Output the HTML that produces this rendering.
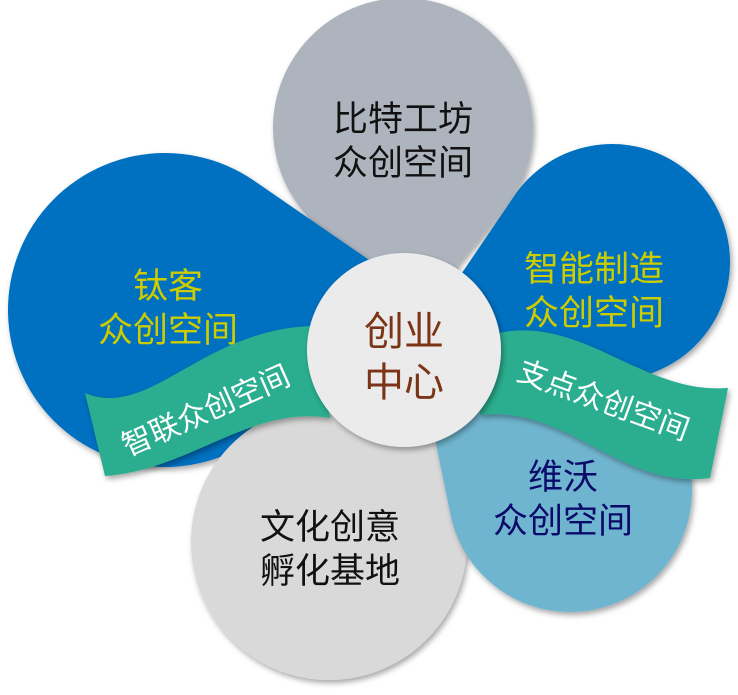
<!DOCTYPE html>
<html><head><meta charset="utf-8">
<style>
html,body{margin:0;padding:0;background:#fff;}
svg{display:block}
text{font-family:"Liberation Sans","Noto Sans CJK SC",sans-serif;}
</style></head>
<body>
<svg id="s" width="738" height="695" viewBox="0 0 738 695" xmlns="http://www.w3.org/2000/svg">
<defs>
<filter id="sh" x="-20%" y="-20%" width="140%" height="140%">
<feDropShadow dx="2" dy="3" stdDeviation="3" flood-color="#000" flood-opacity="0.35"/>
</filter>
</defs>
<g id="petals"></g>
<path d="M85,393 C150,420 200,330 312,326 L330,418 C250,405 190,470 105,476 Z" fill="#2BAE8F" filter="url(#sh)"/>
<path d="M490,335 C580,310 640,395 728,388 L710,478 C620,490 570,405 480,415 Z" fill="#2BAE8F" filter="url(#sh)"/>
<circle cx="404" cy="350" r="97" fill="#EBEBEB" filter="url(#sh)"/>
<g font-size="35">
<text x="403" y="131" text-anchor="middle" fill="#111">比特工坊</text>
<text x="403" y="175" text-anchor="middle" fill="#111">众创空间</text>
<text x="168" y="298" text-anchor="middle" fill="#CCCC00">钛客</text>
<text x="168" y="342" text-anchor="middle" fill="#CCCC00">众创空间</text>
<text x="594" y="281" text-anchor="middle" fill="#CCCC00">智能制造</text>
<text x="594" y="325" text-anchor="middle" fill="#CCCC00">众创空间</text>
<text x="563" y="489" text-anchor="middle" fill="#0A0A6A">维沃</text>
<text x="563" y="533" text-anchor="middle" fill="#0A0A6A">众创空间</text>
<text x="330" y="539" text-anchor="middle" fill="#111">文化创意</text>
<text x="330" y="583" text-anchor="middle" fill="#111">孵化基地</text>
</g>
<text x="404" y="345" text-anchor="middle" font-size="40" fill="#7B3516">创业</text>
<text x="404" y="396" text-anchor="middle" font-size="40" fill="#7B3516">中心</text>
<text x="210" y="420" text-anchor="middle" font-size="30" fill="#fff" transform="rotate(-24 210 420)">智联众创空间</text>
<text x="600" y="410" text-anchor="middle" font-size="30" fill="#fff" transform="rotate(20 600 410)">支点众创空间</text>
</svg>
<script>
(function(){
var P=[
 [403,128,130,403,330,'#ADB4BD'],
 [165,310,157,372,262,'#0070C0'],
 [612,262,118,430,320,'#0070C0'],
 [329,542,138,410,400,'#D9D9D9'],
 [570,490,122,425,390,'#6FB5CF']
];
var g=document.getElementById('petals'),h='';
P.forEach(function(p){
 var cx=p[0],cy=p[1],r=p[2],tx=p[3],ty=p[4];
 var dx=tx-cx,dy=ty-cy,d=Math.sqrt(dx*dx+dy*dy);
 var a=Math.acos(Math.min(r/d,0.999)),b=Math.atan2(dy,dx);
 var x1=cx+r*Math.cos(b+a),y1=cy+r*Math.sin(b+a);
 var x2=cx+r*Math.cos(b-a),y2=cy+r*Math.sin(b-a);
 h+='<path d="M'+tx+','+ty+' L'+x1+','+y1+' A'+r+','+r+' 0 1 1 '+x2+','+y2+' Z" fill="'+p[5]+'" filter="url(#sh)"/>';
});
g.innerHTML=h;
})();
</script>
</body></html>
